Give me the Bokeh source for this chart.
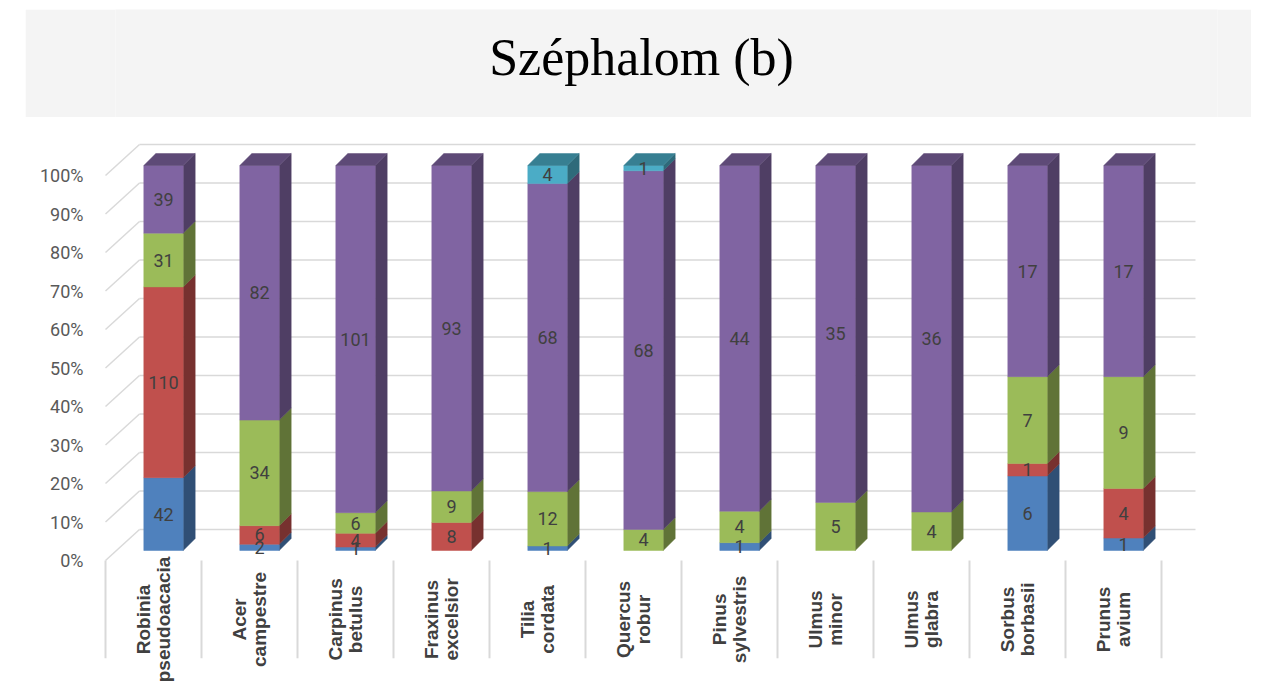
import math
from bokeh.plotting import figure
from bokeh.models import Range1d, LinearAxis, FixedTicker, PrintfTickFormatter
from bokeh.layouts import column
from bokeh.core.properties import value
from bokeh.embed import file_html
from bokeh.resources import INLINE

# ---------------- data ----------------
title_text = "Széphalom (b)"
species = ["Robinia\npseudoacacia", "Acer\ncampestre", "Carpinus\nbetulus",
           "Fraxinus\nexcelsior", "Tilia\ncordata", "Quercus\nrobur",
           "Pinus\nsylvestris", "Ulmus\nminor", "Ulmus\nglabra",
           "Sorbus\nborbasii", "Prunus\navium"]
blue = [42, 2, 1, 0, 1, 0, 1, 0, 0, 6, 1]
red = [110, 6, 4, 8, 0, 0, 0, 0, 0, 1, 4]
green = [31, 34, 6, 9, 12, 4, 4, 5, 4, 7, 9]
purple = [39, 82, 101, 93, 68, 68, 44, 35, 36, 17, 17]
cyan = [0, 0, 0, 0, 4, 1, 0, 0, 0, 0, 0]
y_ticks = [0, 10, 20, 30, 40, 50, 60, 70, 80, 90, 100]

series = [blue, red, green, purple, cyan]
colors = ["#4f81bd", "#c0504d", "#9bbb59", "#8064a2", "#4bacc6"]

# ---------------- style / 3D geometry (data units) ----------------
BAR_W = 0.41          # front face width (category units)
DEPTH_X, DEPTH_Y = 0.125, 3.1     # bar depth offset
FRONT_X, FRONT_Y = -0.104, -2.6   # floor front relative to bar front
WALL_X, WALL_Y = 0.354, 8.05      # floor depth (front -> back wall)
SEP_LEN = 25.4
LABEL_Y = -17.9
GRID_COL = "#d9d9d9"


def shade(hexcol, f):
    h = hexcol.lstrip("#")
    r, g, b = (int(h[i:i + 2], 16) for i in (0, 2, 4))
    return "#%02x%02x%02x" % (int(r * f), int(g * f), int(b * f))


n = len(species)
totals = [sum(s[i] for s in series) for i in range(n)]

# ---------------- main figure geometry ----------------
FIG_W, FIG_H = 1256, 567
BORDER_L, BORDER_R, BORDER_T = 90, 34, 13

# ---------------- title figure ----------------
# (the column layout gives its frame the same borders as the main figure)
TITLE_W, TITLE_H, TITLE_ML = 1226, 108, 25
tp = figure(width=TITLE_W, height=TITLE_H,
            x_range=Range1d(BORDER_L, TITLE_W - BORDER_R),
            y_range=Range1d(0, TITLE_H),
            toolbar_location=None, output_backend="svg",
            x_axis_location=None, y_axis_location=None, min_border=0,
            min_border_left=0, min_border_right=0, min_border_top=0,
            min_border_bottom=0,
            background_fill_color="#f4f4f4", border_fill_color="#f4f4f4",
            outline_line_color=None, margin=(9, 0, 0, TITLE_ML))
tp.grid.visible = False
tp.text(x=[616], y=[60], text=[title_text], text_align="center",
        text_baseline="middle", text_font=value("Liberation Serif"),
        text_font_size="52px", text_color="#000000")

# ---------------- main figure ----------------
x0 = -0.677
x1 = x0 + (FIG_W - BORDER_L - BORDER_R) / 96.0
v0, v1 = -34.805, 109.091
p = figure(width=FIG_W, height=FIG_H, x_range=Range1d(x0, x1), y_range=Range1d(v0, v1),
           min_border_left=BORDER_L, min_border_right=BORDER_R, min_border_top=BORDER_T,
           min_border_bottom=0, x_axis_location=None, y_axis_location=None,
           toolbar_location=None, output_backend="svg", outline_line_color=None,
           background_fill_color="white", border_fill_color="white",
           margin=(0, 0, 0, 8))
p.grid.visible = False
p.extra_y_ranges = {"floor": Range1d(v0 - FRONT_Y, v1 - FRONT_Y)}

yaxis = LinearAxis(y_range_name="floor", ticker=FixedTicker(ticks=y_ticks),
                   formatter=PrintfTickFormatter(format="%d%%"),
                   axis_line_color=None, major_tick_line_color=None,
                   minor_tick_line_color=None, major_label_standoff=9,
                   major_label_text_font="Roboto", major_label_text_font_size="18px",
                   major_label_text_color="#595959")
p.add_layout(yaxis, "left")

# back wall gridlines and side-wall lines
left_back = -0.5 + FRONT_X + WALL_X
right_back = n - 0.5 + FRONT_X + WALL_X
left_front = -0.5 + FRONT_X
p.segment(x0=[left_back] * len(y_ticks), x1=[right_back] * len(y_ticks),
          y0=[t + FRONT_Y + WALL_Y for t in y_ticks],
          y1=[t + FRONT_Y + WALL_Y for t in y_ticks],
          line_color=GRID_COL, line_width=1.5)
p.segment(x0=[left_front] * len(y_ticks), x1=[left_back] * len(y_ticks),
          y0=[t + FRONT_Y for t in y_ticks],
          y1=[t + FRONT_Y + WALL_Y for t in y_ticks],
          line_color=GRID_COL, line_width=1.5)
# category separators below the floor
seps = [k - 0.5 + FRONT_X for k in range(n + 1)]
p.segment(x0=seps, x1=seps, y0=[FRONT_Y] * len(seps), y1=[FRONT_Y - SEP_LEN] * len(seps),
          line_color=GRID_COL, line_width=2)

# bars
lab_x, lab_y, lab_t = [], [], []
cum = [0.0] * n
top_idx = [0] * n
for si, s in enumerate(series):
    for i in range(n):
        if s[i] > 0:
            top_idx[i] = si

for si, s in enumerate(series):
    col = colors[si]
    fl, fr, fb, ft = [], [], [], []
    sxs, sys_ = [], []
    for i in range(n):
        if s[i] <= 0:
            continue
        b = cum[i]
        t = b + 100.0 * s[i] / totals[i]
        cum[i] = t
        l, r = i - BAR_W / 2, i + BAR_W / 2
        fl.append(l); fr.append(r); fb.append(b); ft.append(t)
        sxs.append([r, r + DEPTH_X, r + DEPTH_X, r])
        sys_.append([b, b + DEPTH_Y, t + DEPTH_Y, t])
        lab_x.append(i); lab_y.append((b + t) / 2); lab_t.append(str(s[i]))
    side_col = shade(col, 0.62)
    p.patches(xs=sxs, ys=sys_, fill_color=side_col, line_color=side_col, line_width=0.5)
    p.quad(left=fl, right=fr, bottom=fb, top=ft, fill_color=col, line_color=col,
           line_width=0.5)

# top faces
txs, tys, tcs = [], [], []
for i in range(n):
    l, r = i - BAR_W / 2, i + BAR_W / 2
    txs.append([l, l + DEPTH_X, r + DEPTH_X, r])
    tys.append([100, 100 + DEPTH_Y, 100 + DEPTH_Y, 100])
    tcs.append(shade(colors[top_idx[i]], 0.74))
p.patches(xs=txs, ys=tys, fill_color=tcs, line_color=tcs, line_width=0.5)

# data labels
p.text(x=lab_x, y=lab_y, text=lab_t, text_align="center", text_baseline="middle",
       text_font=value("Roboto"), text_font_size="18px", text_color="#404040")

# category labels
p.text(x=[i + FRONT_X for i in range(n)], y=[LABEL_Y] * n, text=species,
       angle=math.pi / 2, text_align="center", text_baseline="middle",
       text_font=value("Liberation Sans"), text_font_style="bold",
       text_font_size="19px", text_line_height=0.95, text_color="#404040")

layout = column(tp, p, spacing=0)
open("out.html", "w").write(file_html(layout, INLINE))
